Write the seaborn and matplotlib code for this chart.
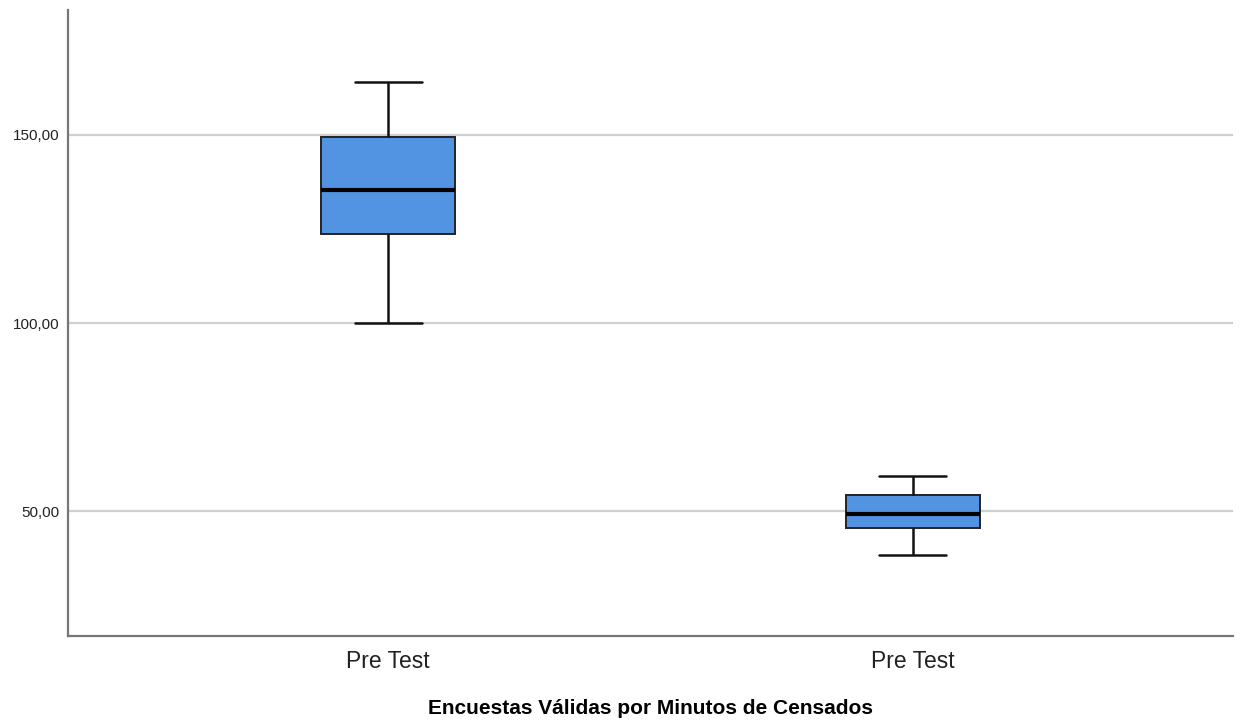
import pandas as pd
import matplotlib.pyplot as plt
import seaborn as sns

# five-number summaries (min, q1, median, q3, max)
group_keys = ["g1", "g2"]
tick_labels = ["Pre Test", "Pre Test"]
group1_values = [100.0, 123.7, 135.3, 149.5, 164.1]
group2_values = [38.3, 45.5, 49.3, 54.3, 59.3]
y_ticks = [50, 100, 150]

df = pd.DataFrame({
    "grupo": [group_keys[0]] * len(group1_values) + [group_keys[1]] * len(group2_values),
    "valor": group1_values + group2_values,
})

sns.set_theme(style="white")
plt.rcParams['font.family'] = ['Liberation Sans', 'DejaVu Sans']

fig = plt.figure(figsize=(12.4, 7.2), dpi=100)
ax = fig.add_axes([0.0548, 0.1167, 0.9395, 0.8693])

ax.yaxis.grid(True, color="#cfcfcf", linewidth=1.6)
ax.set_axisbelow(True)

sns.boxplot(data=df, x="grupo", y="valor", ax=ax, order=group_keys,
            color="#5294e2", saturation=1, width=0.255, whis=(0, 100),
            linewidth=1.8, linecolor="#111111",
            medianprops=dict(color="black", linewidth=3),
            boxprops=dict(edgecolor="#222222", linewidth=1.4))

ax.set_xlim(-0.61, 1.61)
ax.set_ylim(16.8, 183.2)
ax.set_yticks(y_ticks)
ax.set_yticklabels([f"{v:.2f}".replace(".", ",") for v in y_ticks], fontsize=11, color="#222222")
ax.set_xticks([0, 1])
ax.set_xticklabels(tick_labels, fontsize=16.5, color="#222222")
ax.tick_params(axis="both", length=0, pad=6)
ax.tick_params(axis="x", pad=10)

ax.set_xlabel("Encuestas Válidas por Minutos de Censados", fontsize=15,
              fontweight="bold", labelpad=19, color="black")
ax.set_ylabel("")

for s in ["top", "right"]:
    ax.spines[s].set_visible(False)
for s in ["left", "bottom"]:
    ax.spines[s].set_color("#777777")
    ax.spines[s].set_linewidth(1.6)

fig.savefig("out.png", dpi=100)
